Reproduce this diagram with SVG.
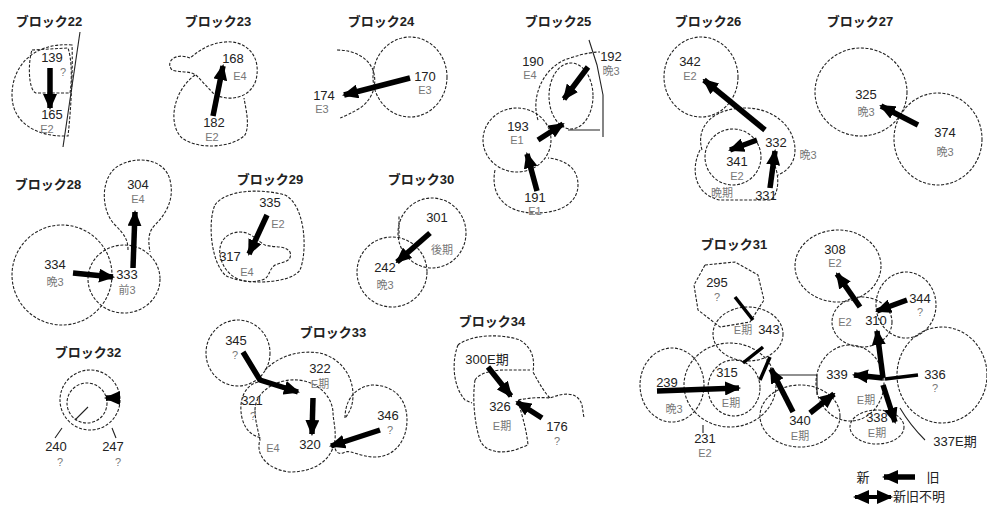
<svg xmlns="http://www.w3.org/2000/svg" width="987" height="508" viewBox="0 0 987 508">
<defs>
<style>
.o{fill:none;stroke:#222;stroke-width:1.1;stroke-dasharray:3 1.6}
.s{fill:none;stroke:#222;stroke-width:1.1}
.a{fill:none;stroke:#000;stroke-width:5.5;marker-end:url(#ah)}
.m{fill:none;stroke:#000;stroke-width:3.5}
text{font-family:"Liberation Sans","Noto Sans CJK JP",sans-serif;text-anchor:middle}
.t{font-size:13px;font-weight:bold;fill:#222}
.n{font-size:13px;fill:#222}
.l{font-size:11px;fill:#777}
</style>
<marker id="ah" markerUnits="userSpaceOnUse" markerWidth="16" markerHeight="14" refX="14" refY="7" orient="auto"><path d="M0,0 L16,7 L0,14 Z" fill="#000"/></marker>
<marker id="ahs" markerUnits="userSpaceOnUse" markerWidth="16" markerHeight="14" refX="14" refY="7" orient="auto-start-reverse"><path d="M0,0 L16,7 L0,14 Z" fill="#000"/></marker>
</defs>
<rect width="987" height="508" fill="#fff"/>

<g id="block22">
<text class="t" x="49" y="26">ブロック22</text>
<path class="o" d="M72,45 C35,42 12,65 12,95 C12,122 35,137 68,136 C71,110 73,70 72,45 Z"/>
<path class="s" d="M80,32 L63,147"/>
<path class="o" d="M32,50 L68,48 C72,60 72,80 70,93 L36,93 C28,90 28,62 32,50 Z"/>
<text class="n" x="52" y="62">139</text><text class="l" x="63" y="76">?</text>
<text class="n" x="52" y="119">165</text><text class="l" x="47" y="133">E2</text>
</g>

<g id="block23">
<text class="t" x="218" y="26">ブロック23</text>
<path class="o" d="M190,58 C175,52 165,62 172,70 C180,73 190,70 197,76 L213,93 C225,102 250,100 256,80 C262,55 245,40 225,42 C210,43 200,50 190,58 Z"/>
<path class="o" d="M195,75 C172,92 168,125 182,138 C198,150 232,148 245,135 C250,125 246,110 244,98"/>
<text class="n" x="233" y="63">168</text><text class="l" x="240" y="80">E4</text>
<text class="n" x="214" y="127">182</text><text class="l" x="212" y="141">E2</text>
</g>

<g id="block24">
<text class="t" x="381" y="26">ブロック24</text>
<ellipse class="o" cx="410" cy="77" rx="37" ry="40"/>
<path class="o" d="M337,50 C355,50 368,58 373,70 C378,85 372,100 360,108 C352,113 345,116 340,118"/>
<text class="n" x="425" y="81">170</text><text class="l" x="425" y="94">E3</text>
<text class="n" x="324" y="100">174</text><text class="l" x="322" y="113">E3</text>
</g>

<g id="block25">
<text class="t" x="558" y="26">ブロック25</text>
<ellipse class="o" cx="571" cy="96" rx="22" ry="33"/>
<path class="o" d="M538,120 C530,95 545,65 570,58 C585,53 595,52 600,52"/>
<path class="s" d="M589,40 L597,65 L603,95 L603,137 M568,130 L600,130"/>
<ellipse class="o" cx="517" cy="140" rx="34" ry="32"/>
<path class="o" d="M495,170 C490,195 505,213 535,213 C565,213 578,200 578,185 C578,170 568,160 548,158"/>
<text class="n" x="533" y="66">190</text><text class="l" x="530" y="79">E4</text>
<text class="n" x="611" y="61">192</text><text class="l" x="611" y="75">晩3</text>
<text class="n" x="518" y="131">193</text><text class="l" x="517" y="144">E1</text>
<text class="n" x="535" y="202">191</text><text class="l" x="535" y="215">E1</text>
</g>

<g id="block26">
<text class="t" x="708" y="26">ブロック26</text>
<ellipse class="o" cx="701" cy="77" rx="37" ry="40"/>
<path class="o" d="M702,150 C695,125 715,108 745,108 C775,108 795,128 795,150 C795,165 785,172 778,175"/>
<path class="o" d="M700,150 C690,170 695,195 720,200 L770,200 C780,195 780,172 772,160"/>
<ellipse class="o" cx="733" cy="157" rx="28" ry="28"/>
<text class="n" x="690" y="66">342</text><text class="l" x="690" y="80">E2</text>
<text class="n" x="776" y="147">332</text><text class="l" x="808" y="159">晩3</text>
<text class="n" x="737" y="166">341</text><text class="l" x="737" y="180">E2</text>
<text class="l" x="722" y="197">晩期</text><text class="n" x="766" y="200">331</text>
</g>

<g id="block27">
<text class="t" x="860" y="26">ブロック27</text>
<ellipse class="o" cx="861" cy="92" rx="46" ry="44"/>
<ellipse class="o" cx="938" cy="139" rx="44" ry="46"/>
<text class="n" x="866" y="99">325</text><text class="l" x="866" y="116">晩3</text>
<text class="n" x="945" y="137">374</text><text class="l" x="945" y="156">晩3</text>
</g>

<g id="block28">
<text class="t" x="48" y="189">ブロック28</text>
<path class="o" d="M128,250 C128,240 125,235 115,225 C100,210 100,175 120,165 C140,155 165,160 170,180 C175,200 165,215 155,225 C148,232 148,240 150,252"/>
<ellipse class="o" cx="62" cy="275" rx="50" ry="50"/>
<ellipse class="o" cx="124" cy="279" rx="36" ry="34"/>
<text class="n" x="138" y="189">304</text><text class="l" x="138" y="203">E4</text>
<text class="n" x="55" y="269">334</text><text class="l" x="55" y="286">晩3</text>
<text class="n" x="127" y="279">333</text><text class="l" x="127" y="294">前3</text>
</g>

<g id="block29">
<text class="t" x="270" y="184">ブロック29</text>
<path class="o" d="M215,205 C225,190 260,188 285,195 C305,205 308,250 300,270 C290,285 240,285 225,275 C210,260 208,220 215,205 Z"/>
<path class="o" d="M222,262 C215,245 225,232 240,232 C252,232 258,242 265,245 C275,248 285,245 290,252 C293,262 282,262 275,265 C268,270 270,278 262,280 C245,285 228,278 222,262 Z"/>
<text class="n" x="270" y="207">335</text><text class="l" x="278" y="228">E2</text>
<text class="n" x="230" y="261">317</text><text class="l" x="247" y="276">E4</text>
</g>

<g id="block30">
<text class="t" x="421" y="184">ブロック30</text>
<ellipse class="o" cx="432" cy="233" rx="34" ry="35"/>
<path class="o" d="M399,238 L399,215"/>
<ellipse class="o" cx="392" cy="272" rx="35" ry="35"/>
<text class="n" x="437" y="222">301</text><text class="l" x="442" y="254">後期</text>
<text class="n" x="385" y="272">242</text><text class="l" x="385" y="289">晩3</text>
</g>

<g id="block31">
<text class="t" x="734" y="249">ブロック31</text>
<ellipse class="o" cx="838" cy="266" rx="43" ry="36"/>
<ellipse class="o" cx="906" cy="305" rx="30" ry="33"/>
<ellipse class="o" cx="862" cy="322" rx="30" ry="25"/>
<ellipse class="o" cx="942" cy="375" rx="45" ry="48"/>
<ellipse class="o" cx="850" cy="383" rx="34" ry="38"/>
<ellipse class="o" cx="877" cy="427" rx="27" ry="17"/>
<ellipse class="o" cx="800" cy="416" rx="40" ry="31"/>
<ellipse class="o" cx="748" cy="334" rx="35" ry="27"/>
<path class="o" d="M705,265 L735,262 L758,275 L764,300 L750,322 L720,327 L698,310 L694,285 Z"/>
<ellipse class="o" cx="730" cy="385" rx="46" ry="42"/>
<ellipse class="o" cx="734" cy="388" rx="26" ry="28"/>
<ellipse class="o" cx="672" cy="385" rx="32" ry="37"/>
<path class="s" d="M778,375 L817,375 L817,395"/>
<path class="s" d="M900,408 C910,425 920,435 925,440"/>
<path class="s" d="M703,425 L703,433"/>
<text class="n" x="835" y="254">308</text><text class="l" x="835" y="267">E2</text>
<text class="n" x="920" y="303">344</text><text class="l" x="920" y="316">?</text>
<text class="n" x="876" y="325">310</text><text class="l" x="845" y="326">E2</text>
<text class="n" x="935" y="379">336</text><text class="l" x="935" y="392">?</text>
<text class="n" x="837" y="379">339</text><text class="l" x="866" y="404">E期</text>
<text class="n" x="877" y="422">338</text><text class="l" x="877" y="437">E期</text>
<text class="n" x="800" y="425">340</text><text class="l" x="800" y="440">E期</text>
<text class="n" x="769" y="334">343</text><text class="l" x="743" y="334">E期</text>
<text class="n" x="717" y="287">295</text><text class="l" x="717" y="301">?</text>
<text class="n" x="727" y="377">315</text><text class="l" x="731" y="407">E期</text>
<text class="n" x="667" y="387">239</text><text class="l" x="674" y="413">晩3</text>
<text class="n" x="705" y="443">231</text><text class="l" x="705" y="457">E2</text>
<text class="n" x="955" y="446">337E期</text>
</g>

<g id="block32">
<text class="t" x="88" y="357">ブロック32</text>
<circle class="o" cx="90" cy="400" r="30"/>
<circle class="o" cx="87" cy="403" r="20"/>
<path class="s" d="M75,420 L88,407 M62,428 L55,438 M112,428 L116,438"/>
<text class="n" x="56" y="451">240</text><text class="l" x="60" y="466">?</text>
<text class="n" x="113" y="451">247</text><text class="l" x="118" y="466">?</text>
</g>

<g id="block33">
<text class="t" x="333" y="337">ブロック33</text>
<ellipse class="o" cx="238" cy="353" rx="32" ry="33"/>
<path class="o" d="M265,370 C280,355 300,350 320,353 C340,358 353,375 353,395 C353,405 350,412 345,418"/>
<path class="o" d="M255,410 C255,395 270,382 290,380 C315,378 332,395 333,412 C333,420 336,428 335,440 C332,460 315,472 290,472 C268,470 255,455 260,440 C258,430 255,420 255,410 Z"/>
<path class="o" d="M258,382 C245,385 238,400 242,418 C245,430 252,436 262,438"/>
<path class="o" d="M345,418 C345,400 355,387 372,385 C395,385 407,400 407,420 C407,440 395,457 375,457 C360,457 352,450 345,452 C340,455 336,453 335,448"/>
<text class="n" x="236" y="345">345</text><text class="l" x="235" y="359">?</text>
<text class="n" x="320" y="373">322</text><text class="l" x="320" y="388">E期</text>
<text class="n" x="252" y="405">321</text><text class="l" x="253" y="420">?</text>
<text class="l" x="273" y="452">E4</text>
<text class="n" x="310" y="449">320</text>
<text class="n" x="388" y="420">346</text><text class="l" x="390" y="434">?</text>
</g>

<g id="block34">
<text class="t" x="492" y="326">ブロック34</text>
<path class="o" d="M458,345 C470,335 500,333 520,340 C532,348 535,358 533,372 C540,385 545,393 550,398 M458,345 C452,360 452,385 465,400 L472,403"/>
<path class="o" d="M475,380 C472,400 475,425 480,440 C485,452 500,454 515,450 L528,445 C526,425 520,410 518,400 C528,398 540,397 550,398 C565,392 578,392 582,405 L584,418"/>
<path class="o" d="M475,380 C480,372 495,370 505,370 L530,370"/>
<text class="n" x="487" y="364">300E期</text>
<text class="n" x="500" y="411">326</text><text class="l" x="502" y="430">E期</text>
<text class="n" x="557" y="431">176</text><text class="l" x="557" y="445">?</text>
</g>

<g id="legend">
<text class="n" x="863" y="482">新</text>
<text class="n" x="933" y="482">旧</text>
<text class="n" x="919" y="501">新旧不明</text>
</g>

<g id="connectors">
<path class="a" d="M50,68 L50,108"/>
<path class="a" d="M213,116 L223,66"/>
<path class="a" d="M410,78 L344,95"/>
<path class="a" d="M588,67 L564,99"/>
<path class="a" d="M538,140 L563,124"/>
<path class="a" d="M537,191 L527,154"/>
<path class="a" d="M765,130 L704,80"/>
<path class="a" d="M757,140 L730,150"/>
<path class="a" d="M770,188 L775,151"/>
<path class="a" d="M918,125 L881,106"/>
<path class="a" d="M73,273 L113,277"/>
<path class="a" d="M133,268 L135,212"/>
<path class="a" d="M267,215 L249,254"/>
<path class="a" d="M430,233 L397,262"/>
<path class="m" d="M735,297 L753,320"/>
<path class="m" d="M763,347 L743,363 M770,357 L760,380"/>
<path class="a" d="M657,391 L739,388"/>
<path class="a" d="M793,412 L771,369"/>
<path class="a" d="M810,413 L834,394"/>
<path class="a" d="M883,378 L877,331"/>
<path class="a" d="M883,378 L854,375"/>
<path class="m" d="M918,375 L885,379"/>
<path class="a" d="M883,385 L895,422"/>
<path class="a" d="M860,307 L837,274"/>
<path class="a" d="M907,300 L877,311"/>
<path class="a" d="M120,398 L106,398"/>
<path class="a" d="M243,352 L260,380 L298,392"/>
<path class="a" d="M313,398 L312,434"/>
<path class="a" d="M380,430 L331,446"/>
<path class="a" d="M488,367 L511,396"/>
<path class="a" d="M542,418 L517,402"/>
<path class="a" d="M915,477 L884,477"/>
<path fill="none" stroke="#000" stroke-width="4" marker-start="url(#ahs)" marker-end="url(#ahs)" d="M855,497 L891,497"/>
</g>
</svg>
